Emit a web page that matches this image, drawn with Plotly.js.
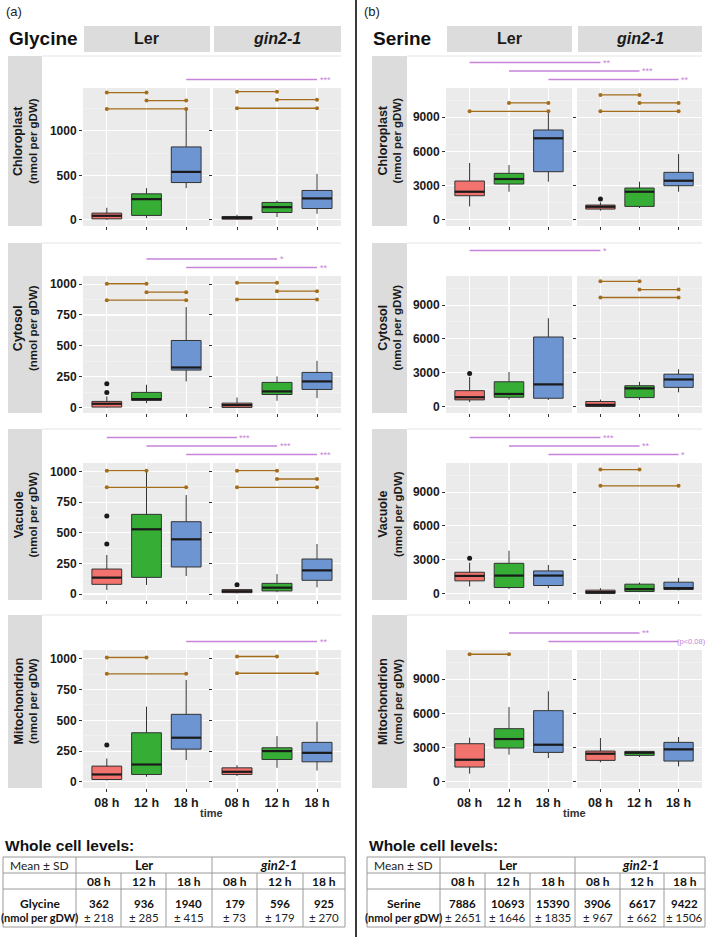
<!DOCTYPE html>
<html>
<head>
<meta charset="utf-8">
<script src="https://cdn.plot.ly/plotly-3.0.1.min.js"></script>
<style>html,body{margin:0;padding:0;background:#fff}</style>
</head>
<body>
<div id="chart" style="width:709px;height:937px"></div>
<script>
const W = 709, H = 937;

const metabolites = ['Glycine', 'Serine'];
const genotypes = ['Ler', 'gin2-1'];
const times = ['08 h', '12 h', '18 h'];
const compartments = ['Chloroplast', 'Cytosol', 'Vacuole', 'Mitochondrion'];
const fills = ['#F2736D', '#36AE36', '#6C95D2'];

// box stats per time: [lower whisker, q1, median, q3, upper whisker]
const glyChlLer = [[0, 10, 45, 75, 135], [19, 49, 232, 292, 356], [356, 419, 539, 820, 1247]];
const glyChlGin = [[0, 7, 22, 37, 56], [30, 82, 142, 195, 217], [67, 127, 240, 330, 517]];
const glyCytLer = [[0, 3, 30, 49, 89], [35, 57, 68, 122, 184], [211, 303, 324, 543, 814]];
const glyCytGin = [[0, 0, 19, 35, 81], [54, 105, 130, 203, 251], [76, 146, 211, 284, 378]];
const glyVacLer = [[33, 79, 134, 204, 319], [74, 136, 529, 651, 1005], [147, 221, 447, 591, 809]];
const glyVacGin = [[5, 11, 22, 36, 40], [14, 25, 52, 87, 163], [54, 112, 193, 286, 409]];
const glyMitLer = [[11, 19, 60, 128, 190], [41, 60, 141, 399, 611], [177, 266, 359, 549, 829]];
const glyMitGin = [[46, 60, 82, 114, 136], [114, 182, 250, 277, 372], [92, 163, 236, 321, 489]];

const serChlLer = [[1147, 2088, 2441, 3382, 4970], [2441, 3117, 3559, 4059, 4794], [3323, 4206, 7147, 7882, 9441]];
const serChlGin = [[765, 912, 1118, 1265, 1500], [1000, 1147, 2441, 2765, 3323], [2441, 2970, 3412, 4147, 5765]];
const serCytLer = [[380, 584, 818, 1403, 2630], [614, 818, 1110, 2192, 3068], [584, 730, 1958, 6165, 7831]];
const serCytGin = [[0, 0, 146, 438, 614], [584, 789, 1607, 1841, 2192], [1256, 1695, 2396, 2864, 3302]];
const serVacLer = [[618, 1118, 1559, 1882, 2735], [382, 529, 1588, 2676, 3794], [470, 706, 1588, 2000, 2529]];
const serVacGin = [[0, 0, 118, 294, 470], [118, 176, 382, 824, 970], [265, 353, 470, 1000, 1382]];
const serMitLer = [[676, 1265, 1912, 3323, 3853], [2353, 2941, 3735, 4647, 6559], [2059, 2559, 3235, 6235, 7941]];
const serMitGin = [[1676, 1853, 2441, 2676, 3823], [2147, 2294, 2529, 2647, 2676], [1323, 1794, 2823, 3441, 3912]];

// outlier points per time
const glyCytLerOut = [[122, 192], [], []];
const glyVacLerOut = [[409, 638], [], []];
const glyVacGinOut = [[76], [], []];
const glyMitLerOut = [[299], [], []];
const serChlGinOut = [[1794], [], []];
const serCytLerOut = [[2922], [], []];
const serVacLerOut = [[3118], [], []];
const noOut = [[], [], []];

// within-genotype comparisons (brown): [from time, to time, height]
const glyChlLerSig = [[0, 1, 1431], [1, 2, 1341], [0, 2, 1247]];
const glyChlGinSig = [[0, 1, 1442], [1, 2, 1352], [0, 2, 1255]];
const glyCytLerSig = [[0, 1, 1003], [1, 2, 935], [0, 2, 870]];
const glyCytGinSig = [[0, 1, 1011], [1, 2, 943], [0, 2, 876]];
const glyVacLerSig = [[0, 1, 1008], [0, 2, 872]];
const glyVacGinSig = [[0, 1, 1008], [1, 2, 940], [0, 2, 872]];
const glyMitLerSig = [[0, 1, 1011], [0, 2, 878]];
const glyMitGinSig = [[0, 1, 1019], [0, 2, 883]];
const serChlLerSig = [[1, 2, 10264], [0, 2, 9529]];
const serChlGinSig = [[0, 1, 10970], [1, 2, 10264], [0, 2, 9529]];
const serCytLerSig = [];
const serCytGinSig = [[0, 1, 11104], [1, 2, 10373], [0, 2, 9672]];
const serVacLerSig = [];
const serVacGinSig = [[0, 1, 11000], [0, 2, 9558]];
const serMitLerSig = [[0, 1, 11206]];
const serMitGinSig = [];

// between-genotype comparisons (purple): [time, label]
const glyChlGen = [[2, '***']];
const glyCytGen = [[1, '*'], [2, '**']];
const glyVacGen = [[0, '***'], [1, '***'], [2, '***']];
const glyMitGen = [[2, '**']];
const serChlGen = [[0, '**'], [1, '***'], [2, '**']];
const serCytGen = [[0, '*']];
const serVacGen = [[0, '***'], [1, '**'], [2, '*']];
const serMitGen = [[1, '**'], [2, '(p<0.08)']];

// whole cell table
const glyMean = [362, 936, 1940, 179, 596, 925];
const glySD = [218, 285, 415, 73, 179, 270];
const serMean = [7886, 10693, 15390, 3906, 6617, 9422];
const serSD = [2651, 1646, 1835, 967, 662, 1506];

const boxes = [
  [[glyChlLer, glyChlGin], [glyCytLer, glyCytGin], [glyVacLer, glyVacGin], [glyMitLer, glyMitGin]],
  [[serChlLer, serChlGin], [serCytLer, serCytGin], [serVacLer, serVacGin], [serMitLer, serMitGin]]
];
const outs = [
  [[noOut, noOut], [glyCytLerOut, noOut], [glyVacLerOut, glyVacGinOut], [glyMitLerOut, noOut]],
  [[noOut, serChlGinOut], [serCytLerOut, noOut], [serVacLerOut, noOut], [noOut, noOut]]
];
const sigs = [
  [[glyChlLerSig, glyChlGinSig], [glyCytLerSig, glyCytGinSig], [glyVacLerSig, glyVacGinSig], [glyMitLerSig, glyMitGinSig]],
  [[serChlLerSig, serChlGinSig], [serCytLerSig, serCytGinSig], [serVacLerSig, serVacGinSig], [serMitLerSig, serMitGinSig]]
];
const gens = [[glyChlGen, glyCytGen, glyVacGen, glyMitGen], [serChlGen, serCytGen, serVacGen, serMitGen]];
const means = [glyMean, serMean];
const sds = [glySD, serSD];

// page geometry (pixels)
const panelX = [[[83, 210], [213, 341]], [[446, 572], [577, 702]]];
const rowTop = [88, 276, 463, 650];
const rowBot = [226, 413, 600, 788];
const stripTop = [56, 243, 429, 615];
const rowStripX = [[8, 42], [372, 407]];
const yRange = [[[-70, 1483], [-45, 1066], [-49, 1071], [-50, 1072]],
                [[-580, 11580], [-580, 11580], [-580, 11580], [-580, 11580]]];
const yStep = [[500, 250, 250, 250], [3000, 3000, 3000, 3000]];
const tableCols = [[3, 76, 121, 166, 212, 257, 303, 345], [367, 440, 485, 530, 575, 620, 664, 705]];

const fx = p => p / W;
const fy = p => 1 - p / H;
const FONT = 'Liberation Sans, Arial, sans-serif';
const TFONT = 'Lato, Liberation Sans, sans-serif';
const purple = '#C583D9';
const brown = '#A36D1C';

function timeX(m, g, t) {
  const d = panelX[m][g];
  return d[0] + (t + 0.6) / 3.2 * (d[1] - d[0]);
}

let data = [];
let layout = {
  width: W, height: H,
  margin: {l: 0, r: 0, t: 0, b: 0},
  paper_bgcolor: 'white',
  plot_bgcolor: '#EBEBEB',
  showlegend: false,
  font: {family: FONT, color: '#1a1a1a'},
  shapes: [],
  annotations: []
};
const shapes = layout.shapes;
const ann = layout.annotations;

function text(x, y, s, opt) {
  ann.push(Object.assign({
    xref: 'paper', yref: 'paper', x: fx(x), y: fy(y), text: s, showarrow: false,
    xanchor: 'center', yanchor: 'middle', font: {family: FONT, size: 11, color: '#1a1a1a'}
  }, opt || {}));
}
function rect(x0, y0, x1, y1, fill) {
  shapes.push({type: 'rect', xref: 'paper', yref: 'paper', x0: fx(x0), x1: fx(x1), y0: fy(y0), y1: fy(y1),
    fillcolor: fill, line: {width: 0}, layer: 'below'});
}
function seg(x0, y0, x1, y1, color, w) {
  shapes.push({type: 'line', xref: 'paper', yref: 'paper', x0: fx(x0), x1: fx(x1), y0: fy(y0), y1: fy(y1),
    line: {color: color, width: w}});
}

for (let m = 0; m < 2; m++) {
  for (let r = 0; r < 4; r++) {
    for (let g = 0; g < 2; g++) {
      const id = m * 8 + r * 2 + g + 1;
      const sfx = id === 1 ? '' : String(id);
      const xa = 'x' + sfx, ya = 'y' + sfx;
      layout['xaxis' + sfx] = {
        domain: [fx(panelX[m][g][0]), fx(panelX[m][g][1])], anchor: ya,
        range: [-0.6, 2.6], tickvals: [0, 1, 2], ticktext: times,
        showticklabels: r === 3, ticks: 'outside', ticklen: 3, tickcolor: '#333',
        showgrid: true, gridcolor: 'white', gridwidth: 1.1, zeroline: false, showline: false,
        tickfont: {family: FONT, size: 12.5, weight: 'bold', color: '#1a1a1a'}
      };
      layout['yaxis' + sfx] = {
        domain: [fy(rowBot[r]), fy(rowTop[r])], anchor: xa,
        range: yRange[m][r], tick0: 0, dtick: yStep[m][r], tickformat: 'd',
        minor: {dtick: yStep[m][r] / 2, showgrid: true, gridcolor: 'rgba(255,255,255,0.65)', gridwidth: 0.5},
        showticklabels: g === 0, ticks: 'outside', ticklen: 3, tickcolor: '#333',
        showgrid: true, gridcolor: 'white', gridwidth: 1.1, zeroline: false, showline: false,
        tickfont: {family: FONT, size: 12, weight: 'bold', color: '#1a1a1a'}
      };

      const stats = boxes[m][r][g];
      for (let t = 0; t < 3; t++) {
        const s = stats[t];
        data.push({
          type: 'box', xaxis: xa, yaxis: ya, x: [t],
          lowerfence: [s[0]], q1: [s[1]], median: [s[2]], q3: [s[3]], upperfence: [s[4]],
          width: 0.75, whiskerwidth: 0, fillcolor: fills[t], boxpoints: false,
          line: {color: '#333333', width: 1}, hoverinfo: 'skip'
        });
        data.push({
          type: 'scatter', mode: 'lines', xaxis: xa, yaxis: ya,
          x: [t - 0.375, t + 0.375], y: [s[2], s[2]],
          line: {color: '#1a1a1a', width: 2.2}, hoverinfo: 'skip'
        });
        const o = outs[m][r][g][t];
        if (o.length) {
          data.push({
            type: 'scatter', mode: 'markers', xaxis: xa, yaxis: ya,
            x: o.map(() => t), y: o, marker: {color: '#1a1a1a', size: 5}, hoverinfo: 'skip'
          });
        }
      }
      sigs[m][r][g].forEach(b => {
        data.push({
          type: 'scatter', mode: 'lines+markers', xaxis: xa, yaxis: ya,
          x: [b[0], b[1]], y: [b[2], b[2]],
          line: {color: brown, width: 1.3}, marker: {color: brown, size: 4}, hoverinfo: 'skip'
        });
      });
    }

    // row strip on the left
    rect(rowStripX[m][0], stripTop[r], rowStripX[m][1], rowBot[r], '#DCDCDC');
    seg(rowStripX[m][1], stripTop[r], panelX[m][1][1], stripTop[r], '#E4E4E4', 1);
    text((rowStripX[m][0] + rowStripX[m][1]) / 2, (stripTop[r] + rowBot[r]) / 2,
      '<b><span style="font-size:12.5px">' + compartments[r] + '</span><br>(nmol per gDW)</b>',
      {textangle: -90, font: {family: FONT, size: 11.5, color: '#1a1a1a'}});

    // between-genotype comparisons
    gens[m][r].forEach(p => {
      const t = p[0];
      const y = rowTop[r] - 8.5 * (3 - t);
      const x0 = timeX(m, 0, t), x1 = timeX(m, 1, t);
      seg(x0, y, x1, y, purple, 1.3);
      if (p[1].length > 3) {
        text(708, y, p[1], {xanchor: 'right', font: {family: FONT, size: 7.5, color: purple}});
      } else {
        text(x1 + 0.5, y, p[1], {xanchor: 'left', font: {family: FONT, size: 9, color: purple}});
      }
    });
  }

  // top strips
  for (let g = 0; g < 2; g++) {
    rect(panelX[m][g][0] + 1, 26, panelX[m][g][1], 52, '#DCDCDC');
    const lab = g === 0 ? '<b>' + genotypes[g] + '</b>' : '<b><i>' + genotypes[g] + '</i></b>';
    text((panelX[m][g][0] + panelX[m][g][1]) / 2, 39, lab, {font: {family: FONT, size: 16, color: '#1a1a1a'}});
  }
  text(rowStripX[m][0] - 1, 39, '<b>' + metabolites[m] + '</b>', {xanchor: 'left', font: {family: FONT, size: 19, color: '#111'}});
  text(m === 0 ? 14 : 372, 12, m === 0 ? '(a)' : '(b)', {font: {family: FONT, size: 13, color: '#222'}});
  text((panelX[m][0][0] + panelX[m][1][1]) / 2, 813, '<b>time</b>', {font: {family: FONT, size: 11, color: '#333'}});

  // whole cell table
  const c = tableCols[m];
  const top = 857, r1 = 873, r2 = 889, bot = 927;
  text(c[0], 845, '<b>Whole cell levels:</b>', {xanchor: 'left', font: {family: FONT, size: 15.5, color: '#111'}});
  const lc = '#9a9a9a';
  seg(c[0], top, c[7], top, lc, 1);
  seg(c[0], r1, c[7], r1, lc, 1);
  seg(c[0], r2, c[7], r2, lc, 1);
  seg(c[0], bot, c[7], bot, lc, 1);
  [0, 1, 4, 7].forEach(i => seg(c[i], top, c[i], bot, lc, 1));
  [2, 3, 5, 6].forEach(i => seg(c[i], r1, c[i], bot, lc, 1));
  text((c[0] + c[1]) / 2, (top + r1) / 2, 'Mean ± SD', {font: {family: TFONT, size: 12, color: '#222'}});
  text((c[1] + c[4]) / 2, (top + r1) / 2, '<b>' + genotypes[0] + '</b>', {font: {family: TFONT, size: 13, color: '#111'}});
  text((c[4] + c[7]) / 2, (top + r1) / 2, '<b><i>' + genotypes[1] + '</i></b>', {font: {family: TFONT, size: 13, color: '#111'}});
  text((c[0] + c[1]) / 2, 903, '<b>' + metabolites[m] + '</b>', {font: {family: TFONT, size: 12, color: '#111'}});
  text((c[0] + c[1]) / 2, 917, '<b>(nmol per gDW)</b>', {font: {family: TFONT, size: 11, color: '#111'}});
  for (let k = 0; k < 6; k++) {
    const cx = (c[k + 1] + c[k + 2]) / 2;
    text(cx, (r1 + r2) / 2, '<b>' + times[k % 3] + '</b>', {font: {family: TFONT, size: 12, color: '#111'}});
    text(cx, 903, '<b>' + means[m][k] + '</b>', {font: {family: TFONT, size: 11.5, color: '#111'}});
    text(cx, 917, '± ' + sds[m][k], {font: {family: TFONT, size: 11.5, color: '#222'}});
  }
}

// divider between the two panels
seg(356, 0, 356, H, '#3a3a3a', 2);

Plotly.newPlot('chart', data, layout, {staticPlot: true, displayModeBar: false});
</script>
</body>
</html>
